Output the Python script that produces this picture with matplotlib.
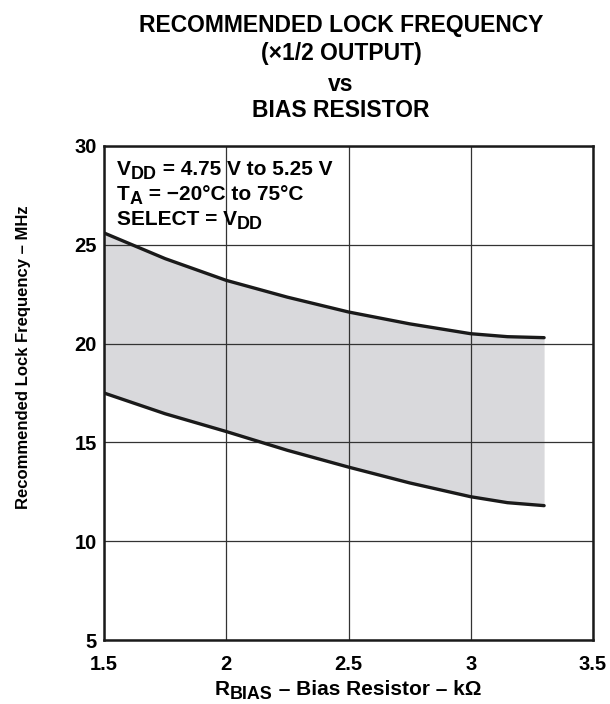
import matplotlib
matplotlib.use("Agg")
import matplotlib.pyplot as plt
from matplotlib.transforms import IdentityTransform

plt.rcParams['font.family'] = ['Liberation Sans', 'DejaVu Sans']
plt.rcParams['font.weight'] = 'bold'

# bias resistor (kOhm) and lock frequency limits (MHz)
r_bias = [1.5, 1.75, 2.0, 2.25, 2.5, 2.75, 3.0, 3.15, 3.3]
f_max = [25.6, 24.3, 23.2, 22.35, 21.6, 21.0, 20.5, 20.35, 20.3]
f_min = [17.5, 16.45, 15.55, 14.6, 13.75, 12.95, 12.25, 11.95, 11.8]

x_ticks = [1.5, 2, 2.5, 3, 3.5]
x_tick_labels = ['1.5', '2', '2.5', '3', '3.5']
y_ticks = [5, 10, 15, 20, 25, 30]

W, H = 610, 704
fig = plt.figure(figsize=(W / 100, H / 100), dpi=100)
ax = fig.add_axes([104 / W, 1 - 640 / H, 489 / W, 494 / H])


def rich_text(x, y, parts, size, ha='left', sub_drop=0.32):
    """draw text with subscripts at pixel position (x from left, y baseline from top)"""
    renderer = fig.canvas.get_renderer()
    items = []
    total = 0
    for s, sub in parts:
        fs = size * 0.86 if sub else size
        t = fig.text(0, 0, s, fontsize=fs, fontweight='bold',
                     transform=IdentityTransform(), va='baseline', ha='left')
        w = t.get_window_extent(renderer).width
        items.append((t, sub, w))
        total += w
    x0 = x - total / 2 if ha == 'center' else x
    for t, sub, w in items:
        dy = size * sub_drop if sub else 0
        t.set_position((x0, H - y - dy))
        x0 += w


ax.fill_between(r_bias, f_min, f_max, color='#d9d9dc', linewidth=0, zorder=1)
ax.plot(r_bias, f_max, color='#1a1a1a', linewidth=2.4, solid_capstyle='round', zorder=3)
ax.plot(r_bias, f_min, color='#1a1a1a', linewidth=2.4, solid_capstyle='round', zorder=3)

ax.set_xlim(1.5, 3.5)
ax.set_ylim(5, 30)
ax.set_xticks(x_ticks)
ax.set_xticklabels(x_tick_labels)
ax.set_yticks(y_ticks)
ax.tick_params(axis='x', length=0, labelsize=14.5, pad=11)
ax.tick_params(axis='y', length=0, labelsize=14.5, pad=5)
for lbl in ax.get_xticklabels() + ax.get_yticklabels():
    lbl.set_fontweight('bold')
ax.grid(True, color='#333333', linewidth=0.9, zorder=2)
ax.set_axisbelow(False)
for s in ax.spines.values():
    s.set_linewidth(1.8)
    s.set_color('#1a1a1a')
    s.set_zorder(4)

ax.set_ylabel('Recommended Lock Frequency – MHz', fontsize=12, fontweight='bold')
ax.yaxis.set_label_coords(-0.15, 0.573)

# x axis label with subscript
rich_text(348, 695, [('R', False), ('BIAS', True), (' – Bias Resistor – kΩ', False)],
          15, ha='center', sub_drop=0.24)

# conditions text
rich_text(117, 175, [('V', False), ('DD', True), (' = 4.75 V to 5.25 V', False)], 15, sub_drop=0.28)
rich_text(117, 200, [('T', False), ('A', True), (' = −20°C to 75°C', False)], 15, sub_drop=0.28)
rich_text(117, 225, [('SELECT = V', False), ('DD', True)], 15, sub_drop=0.28)

title_lines = ['RECOMMENDED LOCK FREQUENCY', '(×1/2 OUTPUT)', 'vs', 'BIAS RESISTOR']
title_base = [32, 60, 91, 117]
for t, b in zip(title_lines, title_base):
    fig.text(341 / W, 1 - b / H, t, ha='center', va='baseline', fontsize=16.5, fontweight='bold')

fig.savefig('out.png', dpi=100)
